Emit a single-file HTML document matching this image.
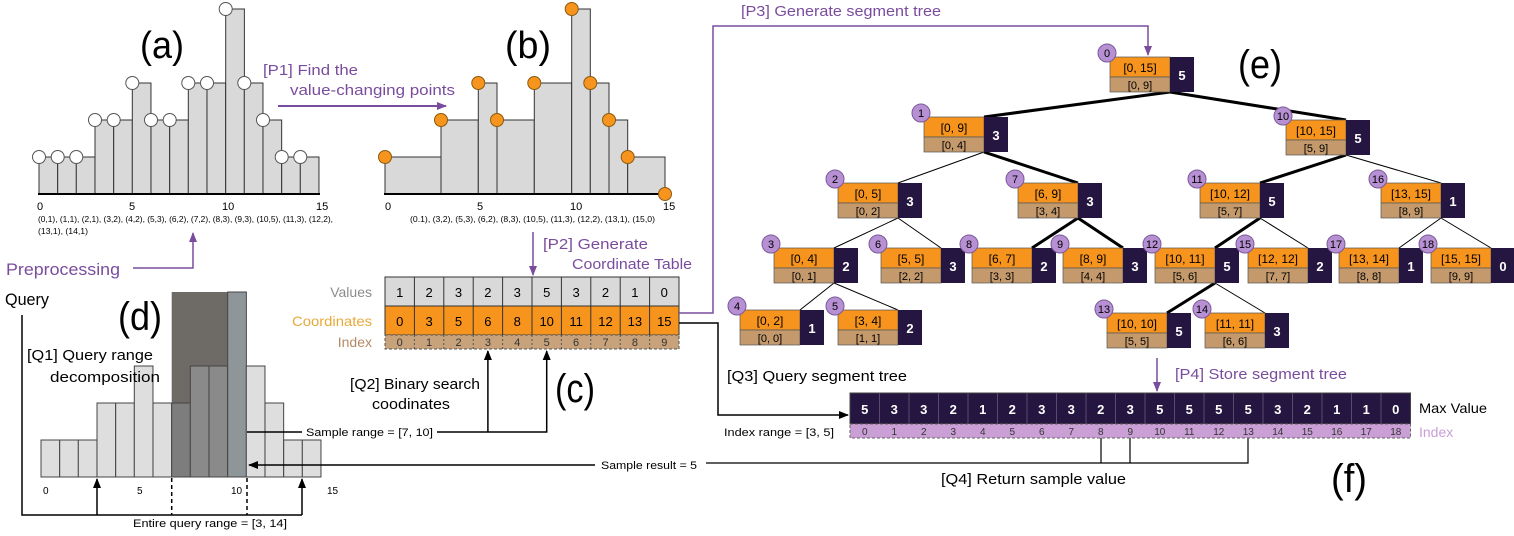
<!DOCTYPE html>
<html><head><meta charset="utf-8"><style>
html,body{margin:0;padding:0;background:#fff;}
svg{display:block;}
text{font-family:"Liberation Sans",sans-serif;}
</style></head><body>
<svg width="1514" height="536" viewBox="0 0 1514 536" xmlns="http://www.w3.org/2000/svg">
<defs>
<marker id="ap" markerWidth="10" markerHeight="10" refX="9" refY="5" orient="auto" markerUnits="userSpaceOnUse"><path d="M0,1 L10,5 L0,9 Z" fill="#7a4c9e"/></marker>
<marker id="ab" markerWidth="10" markerHeight="10" refX="9" refY="5" orient="auto" markerUnits="userSpaceOnUse"><path d="M0,1 L10,5 L0,9 Z" fill="#000"/></marker>
</defs>

<!-- (a) -->
<text x="140" y="58" font-size="38" textLength="44" lengthAdjust="spacingAndGlyphs">(a)</text>
<g fill="#d9d9d9" stroke="#333" stroke-width="1">
<rect x="39" y="157" width="18.67" height="37"/><rect x="57.7" y="157" width="18.67" height="37"/><rect x="76.3" y="157" width="18.67" height="37"/>
<rect x="95" y="120" width="18.67" height="74"/><rect x="113.7" y="120" width="18.67" height="74"/><rect x="132.3" y="83" width="18.67" height="111"/>
<rect x="151" y="120" width="18.67" height="74"/><rect x="169.7" y="120" width="18.67" height="74"/><rect x="188.3" y="83" width="18.67" height="111"/>
<rect x="207" y="83" width="18.67" height="111"/><rect x="225.7" y="9" width="18.67" height="185"/><rect x="244.3" y="83" width="18.67" height="111"/>
<rect x="263" y="120" width="18.67" height="74"/><rect x="281.7" y="157" width="18.67" height="37"/><rect x="300.3" y="157" width="18.67" height="37"/>
</g>
<line x1="38" y1="194" x2="320" y2="194" stroke="#000" stroke-width="2"/>
<g fill="#fff" stroke="#555" stroke-width="1">
<circle cx="39" cy="157" r="6.5"/><circle cx="57.7" cy="157" r="6.5"/><circle cx="76.3" cy="157" r="6.5"/><circle cx="95" cy="120" r="6.5"/><circle cx="113.7" cy="120" r="6.5"/><circle cx="132.3" cy="83" r="6.5"/><circle cx="151" cy="120" r="6.5"/><circle cx="169.7" cy="120" r="6.5"/><circle cx="188.3" cy="83" r="6.5"/><circle cx="207" cy="83" r="6.5"/><circle cx="225.7" cy="9" r="6.5"/><circle cx="244.3" cy="83" r="6.5"/><circle cx="263" cy="120" r="6.5"/><circle cx="281.7" cy="157" r="6.5"/><circle cx="300.3" cy="157" r="6.5"/>
</g>
<g font-size="11"><text x="37" y="210">0</text><text x="129" y="210">5</text><text x="222" y="210">10</text><text x="316" y="210">15</text></g>
<text x="38" y="222" font-size="8.5" textLength="295" lengthAdjust="spacingAndGlyphs">(0,1), (1,1), (2,1), (3,2), (4,2), (5,3), (6,2), (7,2), (8,3), (9,3), (10,5), (11,3), (12,2),</text>
<text x="38" y="234" font-size="8.5" textLength="50" lengthAdjust="spacingAndGlyphs">(13,1), (14,1)</text>

<!-- P1 -->
<text x="263" y="75" font-size="15" fill="#7a4c9e" textLength="95" lengthAdjust="spacingAndGlyphs">[P1]  Find the</text>
<text x="290" y="95" font-size="15" fill="#7a4c9e" textLength="165" lengthAdjust="spacingAndGlyphs">value-changing points</text>
<line x1="278" y1="106" x2="446" y2="106" stroke="#7a4c9e" stroke-width="2" marker-end="url(#ap)"/>

<!-- (b) -->
<text x="505" y="58" font-size="38" textLength="46" lengthAdjust="spacingAndGlyphs">(b)</text>
<g fill="#d9d9d9" stroke="#333" stroke-width="1">
<rect x="385" y="157" width="56" height="37"/><rect x="441" y="120" width="37.3" height="74"/><rect x="478.3" y="83" width="18.7" height="111"/>
<rect x="497" y="120" width="37.3" height="74"/><rect x="534.3" y="83" width="37.4" height="111"/><rect x="571.7" y="9" width="18.6" height="185"/>
<rect x="590.3" y="83" width="18.7" height="111"/><rect x="609" y="120" width="18.7" height="74"/><rect x="627.7" y="157" width="37.3" height="37"/>
</g>
<line x1="384" y1="194" x2="666" y2="194" stroke="#000" stroke-width="2"/>
<g fill="#f7941d" stroke="#8a5a10" stroke-width="1">
<circle cx="385" cy="157" r="6.5"/><circle cx="441" cy="120" r="6.5"/><circle cx="478.3" cy="83" r="6.5"/><circle cx="497" cy="120" r="6.5"/><circle cx="534.3" cy="83" r="6.5"/><circle cx="571.7" cy="9" r="6.5"/><circle cx="590.3" cy="83" r="6.5"/><circle cx="609" cy="120" r="6.5"/><circle cx="627.7" cy="157" r="6.5"/><circle cx="665" cy="194" r="6.5"/>
</g>
<g font-size="11"><text x="385" y="210">0</text><text x="477" y="210">5</text><text x="570" y="210">10</text><text x="663" y="210">15</text></g>
<text x="410" y="222" font-size="8.5" textLength="245" lengthAdjust="spacingAndGlyphs">(0.1), (3,2), (5,3), (6,2), (8,3), (10,5), (11,3), (12,2), (13,1), (15,0)</text>

<!-- P2 -->
<line x1="533" y1="232" x2="533" y2="275" stroke="#7a4c9e" stroke-width="1.5" marker-end="url(#ap)"/>
<text x="543" y="249" font-size="15" fill="#7a4c9e" textLength="105" lengthAdjust="spacingAndGlyphs">[P2]  Generate</text>
<text x="572" y="269" font-size="15" fill="#7a4c9e" textLength="120" lengthAdjust="spacingAndGlyphs">Coordinate Table</text>

<!-- Preprocessing -->
<text x="6" y="275" font-size="17" fill="#7a4c9e" textLength="114" lengthAdjust="spacingAndGlyphs">Preprocessing</text>
<polyline points="133,268 193,268 193,233" fill="none" stroke="#7a4c9e" stroke-width="1.5" marker-end="url(#ap)"/>

<!-- (c) table -->
<g font-size="14" text-anchor="end">
<text x="372" y="297" fill="#8c8c8c">Values</text>
<text x="372" y="326" fill="#e8a93a" textLength="80" lengthAdjust="spacingAndGlyphs">Coordinates</text>
<text x="372" y="347" fill="#b48a64">Index</text>
</g>
<rect x="385" y="277" width="294" height="29" fill="#d9d9d9" stroke="#333"/>
<rect x="385" y="306" width="294" height="29" fill="#f7941d" stroke="#333"/>
<rect x="385" y="335" width="294" height="14" fill="#c8a27a" stroke="#555" stroke-dasharray="3,2"/>
<g stroke="#333" stroke-width="1">
<line x1="414.4" y1="277" x2="414.4" y2="335"/><line x1="443.8" y1="277" x2="443.8" y2="335"/><line x1="473.2" y1="277" x2="473.2" y2="335"/><line x1="502.6" y1="277" x2="502.6" y2="335"/><line x1="532" y1="277" x2="532" y2="335"/><line x1="561.4" y1="277" x2="561.4" y2="335"/><line x1="590.8" y1="277" x2="590.8" y2="335"/><line x1="620.2" y1="277" x2="620.2" y2="335"/><line x1="649.6" y1="277" x2="649.6" y2="335"/>
</g>
<g stroke="#555" stroke-width="1" stroke-dasharray="2,2">
<line x1="414.4" y1="335" x2="414.4" y2="349"/><line x1="443.8" y1="335" x2="443.8" y2="349"/><line x1="473.2" y1="335" x2="473.2" y2="349"/><line x1="502.6" y1="335" x2="502.6" y2="349"/><line x1="532" y1="335" x2="532" y2="349"/><line x1="561.4" y1="335" x2="561.4" y2="349"/><line x1="590.8" y1="335" x2="590.8" y2="349"/><line x1="620.2" y1="335" x2="620.2" y2="349"/><line x1="649.6" y1="335" x2="649.6" y2="349"/>
</g>
<g font-size="13" text-anchor="middle">
<text x="399.7" y="297">1</text><text x="429.1" y="297">2</text><text x="458.5" y="297">3</text><text x="487.9" y="297">2</text><text x="517.3" y="297">3</text><text x="546.7" y="297">5</text><text x="576.1" y="297">3</text><text x="605.5" y="297">2</text><text x="634.9" y="297">1</text><text x="664.3" y="297">0</text>
<text x="399.7" y="326">0</text><text x="429.1" y="326">3</text><text x="458.5" y="326">5</text><text x="487.9" y="326">6</text><text x="517.3" y="326">8</text><text x="546.7" y="326">10</text><text x="576.1" y="326">11</text><text x="605.5" y="326">12</text><text x="634.9" y="326">13</text><text x="664.3" y="326">15</text>
</g>
<g font-size="11" text-anchor="middle" fill="#333">
<text x="399.7" y="346">0</text><text x="429.1" y="346">1</text><text x="458.5" y="346">2</text><text x="487.9" y="346">3</text><text x="517.3" y="346">4</text><text x="546.7" y="346">5</text><text x="576.1" y="346">6</text><text x="605.5" y="346">7</text><text x="634.9" y="346">8</text><text x="664.3" y="346">9</text>
</g>
<text x="555" y="402" font-size="40" textLength="40" lengthAdjust="spacingAndGlyphs">(c)</text>
<text x="350" y="389" font-size="15" textLength="130" lengthAdjust="spacingAndGlyphs">[Q2] Binary search</text>
<text x="372" y="409" font-size="15" textLength="78" lengthAdjust="spacingAndGlyphs">coodinates</text>

<!-- P3 purple line -->
<polyline points="679,313 713,313 713,26 1148,26 1148,55" fill="none" stroke="#7a4c9e" stroke-width="1.5" marker-end="url(#ap)"/>
<text x="741" y="16" font-size="15" fill="#7a4c9e" textLength="200" lengthAdjust="spacingAndGlyphs">[P3] Generate segment tree</text>
<!-- Q3 black line -->
<polyline points="679,323 718,323 718,415 848,415" fill="none" stroke="#000" stroke-width="1.5" marker-end="url(#ab)"/>
<text x="727" y="381" font-size="15" textLength="180" lengthAdjust="spacingAndGlyphs">[Q3] Query segment tree</text>
<text x="724" y="436" font-size="11" textLength="110" lengthAdjust="spacingAndGlyphs">Index range = [3, 5]</text>

<!-- (d) -->
<text x="5" y="305" font-size="17" textLength="44" lengthAdjust="spacingAndGlyphs">Query</text>
<text x="118" y="330" font-size="40" textLength="44" lengthAdjust="spacingAndGlyphs">(d)</text>
<rect x="171.7" y="292" width="56" height="185" fill="#6e6a66"/>
<g stroke="#444" stroke-width="1">
<rect x="41" y="440" width="18.67" height="37" fill="#dedede"/><rect x="59.7" y="440" width="18.67" height="37" fill="#dedede"/><rect x="78.3" y="440" width="18.67" height="37" fill="#dedede"/>
<rect x="97" y="403" width="18.67" height="74" fill="#dedede"/><rect x="115.7" y="403" width="18.67" height="74" fill="#dedede"/><rect x="134.3" y="366" width="18.67" height="111" fill="#dedede"/>
<rect x="153" y="403" width="18.67" height="74" fill="#dedede"/><rect x="171.7" y="403" width="18.67" height="74" fill="#7d7d7d"/><rect x="190.3" y="366" width="18.67" height="111" fill="#8a8a8a"/>
<rect x="209" y="366" width="18.67" height="111" fill="#8a8a8a"/><rect x="227.7" y="292" width="18.67" height="185" fill="#8f969a"/><rect x="246.3" y="366" width="18.67" height="111" fill="#dedede"/>
<rect x="265" y="403" width="18.67" height="74" fill="#dedede"/><rect x="283.7" y="440" width="18.67" height="37" fill="#dedede"/><rect x="302.3" y="440" width="18.67" height="37" fill="#dedede"/>
</g>
<text x="27" y="360" font-size="15" textLength="126" lengthAdjust="spacingAndGlyphs">[Q1] Query range</text>
<text x="50" y="382" font-size="15" textLength="110" lengthAdjust="spacingAndGlyphs">decomposition</text>
<g font-size="10"><text x="43" y="494">0</text><text x="137" y="494">5</text><text x="231" y="494">10</text><text x="327" y="494">15</text></g>
<g stroke="#000" stroke-width="1.5" stroke-dasharray="4,3"><line x1="171.7" y1="478" x2="171.7" y2="515"/><line x1="247" y1="478" x2="247" y2="515"/></g>
<polyline points="22,315 22,515 302,515" fill="none" stroke="#000" stroke-width="1.5"/>
<line x1="97" y1="515" x2="97" y2="479" stroke="#000" stroke-width="1.5" marker-end="url(#ab)"/>
<line x1="302" y1="515" x2="302" y2="479" stroke="#000" stroke-width="1.5" marker-end="url(#ab)"/>
<text x="133" y="527" font-size="11" textLength="154" lengthAdjust="spacingAndGlyphs">Entire query range = [3, 14]</text>

<!-- sample range -->
<line x1="247" y1="432" x2="302" y2="432" stroke="#000" stroke-width="1.5"/>
<text x="306" y="436" font-size="11" textLength="127" lengthAdjust="spacingAndGlyphs">Sample range = [7, 10]</text>
<polyline points="437,432 546.7,432 546.7,351" fill="none" stroke="#000" stroke-width="1.5" marker-end="url(#ab)"/>
<line x1="487.9" y1="432" x2="487.9" y2="351" stroke="#000" stroke-width="1.5" marker-end="url(#ab)"/>
<!-- sample result -->
<line x1="595" y1="465" x2="249" y2="465" stroke="#000" stroke-width="1.5" marker-end="url(#ab)"/>
<text x="601" y="469" font-size="11" textLength="96" lengthAdjust="spacingAndGlyphs">Sample result = 5</text>
<polyline points="706,463 1248,463 1248,438" fill="none" stroke="#000" stroke-width="1.2"/>
<line x1="1101" y1="463" x2="1101" y2="438" stroke="#000" stroke-width="1.2"/>
<line x1="1130" y1="463" x2="1130" y2="438" stroke="#000" stroke-width="1.2"/>
<text x="941" y="484" font-size="15" textLength="185" lengthAdjust="spacingAndGlyphs">[Q4] Return sample value</text>
<text x="1331" y="492" font-size="40" textLength="36" lengthAdjust="spacingAndGlyphs">(f)</text>

<!-- P4 -->
<line x1="1157" y1="358" x2="1157" y2="391" stroke="#7a4c9e" stroke-width="1.5" marker-end="url(#ap)"/>
<text x="1175" y="379" font-size="15" fill="#7a4c9e" textLength="172" lengthAdjust="spacingAndGlyphs">[P4] Store segment tree</text>

<!-- (f) array -->
<rect x="850" y="393" width="560.5" height="31" fill="#241640" stroke="#444"/>
<rect x="850" y="424" width="560.5" height="14" fill="#c99fd6" stroke="#666" stroke-dasharray="3,2"/>
<g stroke="#5a4a70" stroke-width="1">
<line x1="879.5" y1="393" x2="879.5" y2="424"/><line x1="909" y1="393" x2="909" y2="424"/><line x1="938.5" y1="393" x2="938.5" y2="424"/><line x1="968" y1="393" x2="968" y2="424"/><line x1="997.5" y1="393" x2="997.5" y2="424"/><line x1="1027" y1="393" x2="1027" y2="424"/><line x1="1056.5" y1="393" x2="1056.5" y2="424"/><line x1="1086" y1="393" x2="1086" y2="424"/><line x1="1115.5" y1="393" x2="1115.5" y2="424"/><line x1="1145" y1="393" x2="1145" y2="424"/><line x1="1174.5" y1="393" x2="1174.5" y2="424"/><line x1="1204" y1="393" x2="1204" y2="424"/><line x1="1233.5" y1="393" x2="1233.5" y2="424"/><line x1="1263" y1="393" x2="1263" y2="424"/><line x1="1292.5" y1="393" x2="1292.5" y2="424"/><line x1="1322" y1="393" x2="1322" y2="424"/><line x1="1351.5" y1="393" x2="1351.5" y2="424"/><line x1="1381" y1="393" x2="1381" y2="424"/>
</g>
<g font-size="13" font-weight="bold" fill="#fff" text-anchor="middle">
<text x="864.8" y="414">5</text><text x="894.3" y="414">3</text><text x="923.8" y="414">3</text><text x="953.3" y="414">2</text><text x="982.8" y="414">1</text><text x="1012.3" y="414">2</text><text x="1041.8" y="414">3</text><text x="1071.3" y="414">3</text><text x="1100.8" y="414">2</text><text x="1130.3" y="414">3</text><text x="1159.8" y="414">5</text><text x="1189.3" y="414">5</text><text x="1218.8" y="414">5</text><text x="1248.3" y="414">5</text><text x="1277.8" y="414">3</text><text x="1307.3" y="414">2</text><text x="1336.8" y="414">1</text><text x="1366.3" y="414">1</text><text x="1395.8" y="414">0</text>
</g>
<g font-size="10" fill="#333" text-anchor="middle">
<text x="864.8" y="435">0</text><text x="894.3" y="435">1</text><text x="923.8" y="435">2</text><text x="953.3" y="435">3</text><text x="982.8" y="435">4</text><text x="1012.3" y="435">5</text><text x="1041.8" y="435">6</text><text x="1071.3" y="435">7</text><text x="1100.8" y="435">8</text><text x="1130.3" y="435">9</text><text x="1159.8" y="435">10</text><text x="1189.3" y="435">11</text><text x="1218.8" y="435">12</text><text x="1248.3" y="435">13</text><text x="1277.8" y="435">14</text><text x="1307.3" y="435">15</text><text x="1336.8" y="435">16</text><text x="1366.3" y="435">17</text><text x="1395.8" y="435">18</text>
</g>
<text x="1419" y="413" font-size="14" textLength="68" lengthAdjust="spacingAndGlyphs">Max Value</text>
<text x="1419" y="437" font-size="14" fill="#c99fd6">Index</text>

<!-- (e) tree edges -->
<g stroke="#000">
<line x1="1170" y1="92" x2="984" y2="117" stroke-width="3"/>
<line x1="1170" y1="92" x2="1346" y2="120" stroke-width="3"/>
<line x1="984" y1="152" x2="898" y2="183" stroke-width="1"/>
<line x1="984" y1="152" x2="1078" y2="183" stroke-width="3"/>
<line x1="1346" y1="155" x2="1260" y2="183" stroke-width="3"/>
<line x1="1346" y1="155" x2="1441" y2="183" stroke-width="1"/>
<line x1="898" y1="218" x2="834" y2="248" stroke-width="1"/>
<line x1="898" y1="218" x2="941" y2="248" stroke-width="1"/>
<line x1="1078" y1="218" x2="1032" y2="248" stroke-width="3"/>
<line x1="1078" y1="218" x2="1123" y2="248" stroke-width="3"/>
<line x1="1260" y1="218" x2="1215" y2="248" stroke-width="3"/>
<line x1="1260" y1="218" x2="1308" y2="248" stroke-width="1"/>
<line x1="1441" y1="218" x2="1399" y2="248" stroke-width="1"/>
<line x1="1441" y1="218" x2="1491" y2="248" stroke-width="1"/>
<line x1="834" y1="283" x2="800" y2="310" stroke-width="1"/>
<line x1="834" y1="283" x2="898" y2="310" stroke-width="1"/>
<line x1="1215" y1="283" x2="1167" y2="313" stroke-width="3"/>
<line x1="1215" y1="283" x2="1265" y2="313" stroke-width="1"/>
</g>
<text x="1238" y="78" font-size="40" textLength="44" lengthAdjust="spacingAndGlyphs">(e)</text>

<!-- nodes -->
<g>
<g transform="translate(1110,57)"><rect width="60" height="20" fill="#f7941d" stroke="#555" stroke-width=".7"/><rect y="20" width="60" height="15" fill="#c49a6c" stroke="#555" stroke-width=".7"/><rect x="60" width="24" height="35" fill="#241640"/><text x="30" y="15" font-size="12" text-anchor="middle">[0, 15]</text><text x="30" y="32" font-size="11" text-anchor="middle">[0, 9]</text><text x="72" y="23" font-size="13" font-weight="bold" fill="#fff" text-anchor="middle">5</text><circle cx="-3" cy="-4" r="9" fill="#b690d2" stroke="#7a5a9a"/><text x="-3" y="0" font-size="11" text-anchor="middle">0</text></g>
<g transform="translate(924,117)"><rect width="60" height="20" fill="#f7941d" stroke="#555" stroke-width=".7"/><rect y="20" width="60" height="15" fill="#c49a6c" stroke="#555" stroke-width=".7"/><rect x="60" width="24" height="35" fill="#241640"/><text x="30" y="15" font-size="12" text-anchor="middle">[0, 9]</text><text x="30" y="32" font-size="11" text-anchor="middle">[0, 4]</text><text x="72" y="23" font-size="13" font-weight="bold" fill="#fff" text-anchor="middle">3</text><circle cx="-3" cy="-4" r="9" fill="#b690d2" stroke="#7a5a9a"/><text x="-3" y="0" font-size="11" text-anchor="middle">1</text></g>
<g transform="translate(1286,120)"><rect width="60" height="20" fill="#f7941d" stroke="#555" stroke-width=".7"/><rect y="20" width="60" height="15" fill="#c49a6c" stroke="#555" stroke-width=".7"/><rect x="60" width="24" height="35" fill="#241640"/><text x="30" y="15" font-size="12" text-anchor="middle">[10, 15]</text><text x="30" y="32" font-size="11" text-anchor="middle">[5, 9]</text><text x="72" y="23" font-size="13" font-weight="bold" fill="#fff" text-anchor="middle">5</text><circle cx="-3" cy="-4" r="9" fill="#b690d2" stroke="#7a5a9a"/><text x="-3" y="0" font-size="11" text-anchor="middle">10</text></g>
<g transform="translate(838,183)"><rect width="60" height="20" fill="#f7941d" stroke="#555" stroke-width=".7"/><rect y="20" width="60" height="15" fill="#c49a6c" stroke="#555" stroke-width=".7"/><rect x="60" width="24" height="35" fill="#241640"/><text x="30" y="15" font-size="12" text-anchor="middle">[0, 5]</text><text x="30" y="32" font-size="11" text-anchor="middle">[0, 2]</text><text x="72" y="23" font-size="13" font-weight="bold" fill="#fff" text-anchor="middle">3</text><circle cx="-3" cy="-4" r="9" fill="#b690d2" stroke="#7a5a9a"/><text x="-3" y="0" font-size="11" text-anchor="middle">2</text></g>
<g transform="translate(1018,183)"><rect width="60" height="20" fill="#f7941d" stroke="#555" stroke-width=".7"/><rect y="20" width="60" height="15" fill="#c49a6c" stroke="#555" stroke-width=".7"/><rect x="60" width="24" height="35" fill="#241640"/><text x="30" y="15" font-size="12" text-anchor="middle">[6, 9]</text><text x="30" y="32" font-size="11" text-anchor="middle">[3, 4]</text><text x="72" y="23" font-size="13" font-weight="bold" fill="#fff" text-anchor="middle">3</text><circle cx="-3" cy="-4" r="9" fill="#b690d2" stroke="#7a5a9a"/><text x="-3" y="0" font-size="11" text-anchor="middle">7</text></g>
<g transform="translate(1200,183)"><rect width="60" height="20" fill="#f7941d" stroke="#555" stroke-width=".7"/><rect y="20" width="60" height="15" fill="#c49a6c" stroke="#555" stroke-width=".7"/><rect x="60" width="24" height="35" fill="#241640"/><text x="30" y="15" font-size="12" text-anchor="middle">[10, 12]</text><text x="30" y="32" font-size="11" text-anchor="middle">[5, 7]</text><text x="72" y="23" font-size="13" font-weight="bold" fill="#fff" text-anchor="middle">5</text><circle cx="-3" cy="-4" r="9" fill="#b690d2" stroke="#7a5a9a"/><text x="-3" y="0" font-size="11" text-anchor="middle">11</text></g>
<g transform="translate(1381,183)"><rect width="60" height="20" fill="#f7941d" stroke="#555" stroke-width=".7"/><rect y="20" width="60" height="15" fill="#c49a6c" stroke="#555" stroke-width=".7"/><rect x="60" width="24" height="35" fill="#241640"/><text x="30" y="15" font-size="12" text-anchor="middle">[13, 15]</text><text x="30" y="32" font-size="11" text-anchor="middle">[8, 9]</text><text x="72" y="23" font-size="13" font-weight="bold" fill="#fff" text-anchor="middle">1</text><circle cx="-3" cy="-4" r="9" fill="#b690d2" stroke="#7a5a9a"/><text x="-3" y="0" font-size="11" text-anchor="middle">16</text></g>
<g transform="translate(774,248)"><rect width="60" height="20" fill="#f7941d" stroke="#555" stroke-width=".7"/><rect y="20" width="60" height="15" fill="#c49a6c" stroke="#555" stroke-width=".7"/><rect x="60" width="24" height="35" fill="#241640"/><text x="30" y="15" font-size="12" text-anchor="middle">[0, 4]</text><text x="30" y="32" font-size="11" text-anchor="middle">[0, 1]</text><text x="72" y="23" font-size="13" font-weight="bold" fill="#fff" text-anchor="middle">2</text><circle cx="-3" cy="-4" r="9" fill="#b690d2" stroke="#7a5a9a"/><text x="-3" y="0" font-size="11" text-anchor="middle">3</text></g>
<g transform="translate(881,248)"><rect width="60" height="20" fill="#f7941d" stroke="#555" stroke-width=".7"/><rect y="20" width="60" height="15" fill="#c49a6c" stroke="#555" stroke-width=".7"/><rect x="60" width="24" height="35" fill="#241640"/><text x="30" y="15" font-size="12" text-anchor="middle">[5, 5]</text><text x="30" y="32" font-size="11" text-anchor="middle">[2, 2]</text><text x="72" y="23" font-size="13" font-weight="bold" fill="#fff" text-anchor="middle">3</text><circle cx="-3" cy="-4" r="9" fill="#b690d2" stroke="#7a5a9a"/><text x="-3" y="0" font-size="11" text-anchor="middle">6</text></g>
<g transform="translate(972,248)"><rect width="60" height="20" fill="#f7941d" stroke="#555" stroke-width=".7"/><rect y="20" width="60" height="15" fill="#c49a6c" stroke="#555" stroke-width=".7"/><rect x="60" width="24" height="35" fill="#241640"/><text x="30" y="15" font-size="12" text-anchor="middle">[6, 7]</text><text x="30" y="32" font-size="11" text-anchor="middle">[3, 3]</text><text x="72" y="23" font-size="13" font-weight="bold" fill="#fff" text-anchor="middle">2</text><circle cx="-3" cy="-4" r="9" fill="#b690d2" stroke="#7a5a9a"/><text x="-3" y="0" font-size="11" text-anchor="middle">8</text></g>
<g transform="translate(1063,248)"><rect width="60" height="20" fill="#f7941d" stroke="#555" stroke-width=".7"/><rect y="20" width="60" height="15" fill="#c49a6c" stroke="#555" stroke-width=".7"/><rect x="60" width="24" height="35" fill="#241640"/><text x="30" y="15" font-size="12" text-anchor="middle">[8, 9]</text><text x="30" y="32" font-size="11" text-anchor="middle">[4, 4]</text><text x="72" y="23" font-size="13" font-weight="bold" fill="#fff" text-anchor="middle">3</text><circle cx="-3" cy="-4" r="9" fill="#b690d2" stroke="#7a5a9a"/><text x="-3" y="0" font-size="11" text-anchor="middle">9</text></g>
<g transform="translate(1155,248)"><rect width="60" height="20" fill="#f7941d" stroke="#555" stroke-width=".7"/><rect y="20" width="60" height="15" fill="#c49a6c" stroke="#555" stroke-width=".7"/><rect x="60" width="24" height="35" fill="#241640"/><text x="30" y="15" font-size="12" text-anchor="middle">[10, 11]</text><text x="30" y="32" font-size="11" text-anchor="middle">[5, 6]</text><text x="72" y="23" font-size="13" font-weight="bold" fill="#fff" text-anchor="middle">5</text><circle cx="-3" cy="-4" r="9" fill="#b690d2" stroke="#7a5a9a"/><text x="-3" y="0" font-size="11" text-anchor="middle">12</text></g>
<g transform="translate(1248,248)"><rect width="60" height="20" fill="#f7941d" stroke="#555" stroke-width=".7"/><rect y="20" width="60" height="15" fill="#c49a6c" stroke="#555" stroke-width=".7"/><rect x="60" width="24" height="35" fill="#241640"/><text x="30" y="15" font-size="12" text-anchor="middle">[12, 12]</text><text x="30" y="32" font-size="11" text-anchor="middle">[7, 7]</text><text x="72" y="23" font-size="13" font-weight="bold" fill="#fff" text-anchor="middle">2</text><circle cx="-3" cy="-4" r="9" fill="#b690d2" stroke="#7a5a9a"/><text x="-3" y="0" font-size="11" text-anchor="middle">15</text></g>
<g transform="translate(1339,248)"><rect width="60" height="20" fill="#f7941d" stroke="#555" stroke-width=".7"/><rect y="20" width="60" height="15" fill="#c49a6c" stroke="#555" stroke-width=".7"/><rect x="60" width="24" height="35" fill="#241640"/><text x="30" y="15" font-size="12" text-anchor="middle">[13, 14]</text><text x="30" y="32" font-size="11" text-anchor="middle">[8, 8]</text><text x="72" y="23" font-size="13" font-weight="bold" fill="#fff" text-anchor="middle">1</text><circle cx="-3" cy="-4" r="9" fill="#b690d2" stroke="#7a5a9a"/><text x="-3" y="0" font-size="11" text-anchor="middle">17</text></g>
<g transform="translate(1431,248)"><rect width="60" height="20" fill="#f7941d" stroke="#555" stroke-width=".7"/><rect y="20" width="60" height="15" fill="#c49a6c" stroke="#555" stroke-width=".7"/><rect x="60" width="24" height="35" fill="#241640"/><text x="30" y="15" font-size="12" text-anchor="middle">[15, 15]</text><text x="30" y="32" font-size="11" text-anchor="middle">[9, 9]</text><text x="72" y="23" font-size="13" font-weight="bold" fill="#fff" text-anchor="middle">0</text><circle cx="-3" cy="-4" r="9" fill="#b690d2" stroke="#7a5a9a"/><text x="-3" y="0" font-size="11" text-anchor="middle">18</text></g>
<g transform="translate(740,310)"><rect width="60" height="20" fill="#f7941d" stroke="#555" stroke-width=".7"/><rect y="20" width="60" height="15" fill="#c49a6c" stroke="#555" stroke-width=".7"/><rect x="60" width="24" height="35" fill="#241640"/><text x="30" y="15" font-size="12" text-anchor="middle">[0, 2]</text><text x="30" y="32" font-size="11" text-anchor="middle">[0, 0]</text><text x="72" y="23" font-size="13" font-weight="bold" fill="#fff" text-anchor="middle">1</text><circle cx="-3" cy="-4" r="9" fill="#b690d2" stroke="#7a5a9a"/><text x="-3" y="0" font-size="11" text-anchor="middle">4</text></g>
<g transform="translate(838,310)"><rect width="60" height="20" fill="#f7941d" stroke="#555" stroke-width=".7"/><rect y="20" width="60" height="15" fill="#c49a6c" stroke="#555" stroke-width=".7"/><rect x="60" width="24" height="35" fill="#241640"/><text x="30" y="15" font-size="12" text-anchor="middle">[3, 4]</text><text x="30" y="32" font-size="11" text-anchor="middle">[1, 1]</text><text x="72" y="23" font-size="13" font-weight="bold" fill="#fff" text-anchor="middle">2</text><circle cx="-3" cy="-4" r="9" fill="#b690d2" stroke="#7a5a9a"/><text x="-3" y="0" font-size="11" text-anchor="middle">5</text></g>
<g transform="translate(1107,313)"><rect width="60" height="20" fill="#f7941d" stroke="#555" stroke-width=".7"/><rect y="20" width="60" height="15" fill="#c49a6c" stroke="#555" stroke-width=".7"/><rect x="60" width="24" height="35" fill="#241640"/><text x="30" y="15" font-size="12" text-anchor="middle">[10, 10]</text><text x="30" y="32" font-size="11" text-anchor="middle">[5, 5]</text><text x="72" y="23" font-size="13" font-weight="bold" fill="#fff" text-anchor="middle">5</text><circle cx="-3" cy="-4" r="9" fill="#b690d2" stroke="#7a5a9a"/><text x="-3" y="0" font-size="11" text-anchor="middle">13</text></g>
<g transform="translate(1205,313)"><rect width="60" height="20" fill="#f7941d" stroke="#555" stroke-width=".7"/><rect y="20" width="60" height="15" fill="#c49a6c" stroke="#555" stroke-width=".7"/><rect x="60" width="24" height="35" fill="#241640"/><text x="30" y="15" font-size="12" text-anchor="middle">[11, 11]</text><text x="30" y="32" font-size="11" text-anchor="middle">[6, 6]</text><text x="72" y="23" font-size="13" font-weight="bold" fill="#fff" text-anchor="middle">3</text><circle cx="-3" cy="-4" r="9" fill="#b690d2" stroke="#7a5a9a"/><text x="-3" y="0" font-size="11" text-anchor="middle">14</text></g>
</g>
</svg>
</body></html>
